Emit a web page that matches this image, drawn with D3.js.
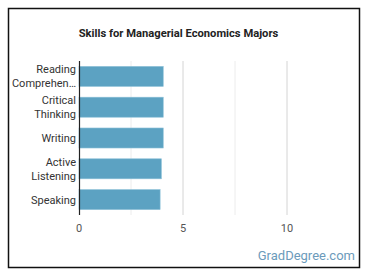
<!DOCTYPE html>
<html>
<head>
<meta charset="utf-8">
<script src="https://cdn.jsdelivr.net/npm/d3@7"></script>
<style>
  html, body { margin: 0; padding: 0; background: #fff; }
  svg { display: block; font-family: Roboto, "Open Sans", sans-serif; }
</style>
</head>
<body>
<div id="chart"></div>
<script>
// Skills for Managerial Economics Majors — horizontal bars
const skills = ["Reading Comprehen…", "Critical Thinking", "Writing", "Active Listening", "Speaking"];
const skillLines = [["Reading", "Comprehen…"], ["Critical", "Thinking"], ["Writing"], ["Active", "Listening"], ["Speaking"]];
const scores = [4.05, 4.05, 4.05, 3.96, 3.9];
const xTicks = [0, 5, 10];
const gridTicks = [2.5, 5, 7.5, 10];

const W = 370, H = 278;
const plot = { left: 79, right: 339, top: 61, bottom: 215 };

const svg = d3.select("#chart").append("svg")
  .attr("width", W).attr("height", H);

// outer frame
svg.append("rect")
  .attr("x", 8.5).attr("y", 8.5)
  .attr("width", 351).attr("height", 259)
  .attr("fill", "#fff").attr("stroke", "#111").attr("stroke-width", 1.5);

svg.append("text")
  .attr("x", 178.5).attr("y", 37)
  .attr("text-anchor", "middle")
  .attr("font-size", 11.2).attr("font-weight", "bold").attr("fill", "#222")
  .text("Skills for Managerial Economics Majors");

const x = d3.scaleLinear().domain([0, 12.5]).range([plot.left, plot.right]);
const y = d3.scaleBand().domain(skills).range([plot.top, plot.bottom])
  .paddingInner(0.35).paddingOuter(0.175);

// gridlines
svg.append("g").selectAll("line").data(gridTicks).join("line")
  .attr("x1", d => x(d)).attr("x2", d => x(d))
  .attr("y1", plot.top).attr("y2", plot.bottom)
  .attr("stroke", d => d % 5 === 0 ? "#d4d4d4" : "#ececec")
  .attr("stroke-width", 1);

// bars
svg.append("g").selectAll("rect").data(skills).join("rect")
  .attr("x", x(0))
  .attr("y", d => y(d))
  .attr("width", (d, i) => x(scores[i]) - x(0))
  .attr("height", y.bandwidth())
  .attr("fill", "#5ca2c2")
  .attr("stroke", "#8cc0d8").attr("stroke-width", 0.6);

// y axis line
svg.append("line")
  .attr("x1", x(0) + 0.5).attr("x2", x(0) + 0.5)
  .attr("y1", plot.top).attr("y2", plot.bottom)
  .attr("stroke", "#222").attr("stroke-width", 1.2);

// category labels
const lab = svg.append("g").selectAll("text").data(skills).join("text")
  .attr("text-anchor", "end")
  .attr("font-size", 11).attr("fill", "#333");
lab.each(function(d, i) {
  const lines = skillLines[i];
  const cy = y(d) + y.bandwidth() / 2;
  const lh = 14;
  const t = d3.select(this);
  lines.forEach((ln, j) => {
    t.append("tspan")
      .attr("x", plot.left - 3)
      .attr("y", cy + (j - (lines.length - 1) / 2) * lh + 4)
      .text(ln);
  });
});

// x tick labels
svg.append("g").selectAll("text").data(xTicks).join("text")
  .attr("x", d => x(d)).attr("y", 232)
  .attr("text-anchor", "middle")
  .attr("font-size", 11).attr("fill", "#555")
  .text(d => d);

svg.append("text")
  .attr("x", 355).attr("y", 260)
  .attr("text-anchor", "end")
  .attr("font-size", 13).attr("fill", "#6c9bbb")
  .text("GradDegree.com");
</script>
</body>
</html>
